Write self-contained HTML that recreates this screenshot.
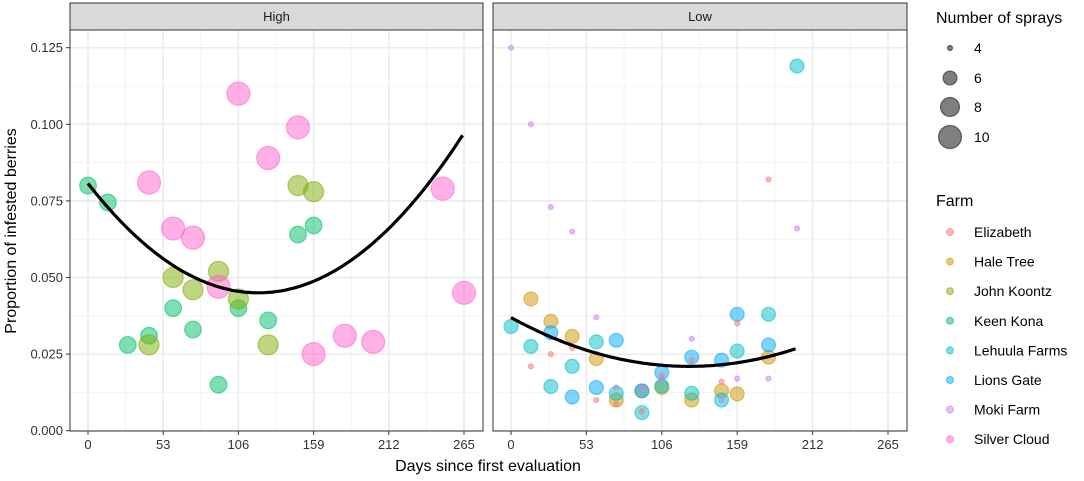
<!DOCTYPE html>
<html><head><meta charset="utf-8"><style>
body{margin:0;background:#fff;font-family:"Liberation Sans",Arial,sans-serif}
svg text{font-family:"Liberation Sans",Arial,sans-serif}
</style></head><body>
<svg id="chart" width="1084" height="476" xmlns="http://www.w3.org/2000/svg"></svg>
<script>
const xTicks=[0,53,106,159,212,265];
const yTicks=[0,0.025,0.05,0.075,0.1,0.125];
const yTickLabels=["0.000","0.025","0.050","0.075","0.100","0.125"];
const farms=["Elizabeth","Hale Tree","John Koontz","Keen Kona","Lehuula Farms","Lions Gate","Moki Farm","Silver Cloud"];
const farmColors=["#F8766D","#CD9600","#7CAE00","#00BE67","#00BFC4","#00A9FF","#C77CFF","#FF61CC"];
const sprayLevels=[4,6,8,10];
const highKeen=[[0,.080],[14,.0745],[28,.028],[43,.031],[60,.040],[74,.033],[92,.015],[106,.040],[127,.036],[148,.064],[159,.067]];
const highJohn=[[43,.028],[60,.050],[74,.046],[92,.052],[106,.043],[127,.028],[148,.080],[159,.078]];
const highSilver=[[43,.081],[60,.066],[74,.063],[92,.047],[106,.110],[127,.089],[148,.099],[159,.025],[181,.031],[201,.029],[250,.079],[265,.045]];
const lowMoki=[[0,.125],[14,.100],[28,.073],[43,.065],[60,.037],[74,.0141],[92,.0138],[106,.017],[127,.030],[148,.010],[159,.017],[181,.017],[201,.066]];
const lowEliz=[[14,.021],[28,.025],[43,.027],[60,.010],[74,.0087],[92,.0063],[106,.018],[127,.023],[148,.016],[159,.035],[181,.082]];
const lowHale=[[14,.043],[28,.0357],[43,.0308],[60,.0235],[74,.010],[92,.013],[106,.0141],[127,.010],[148,.013],[159,.012],[181,.024]];
const lowLehuula=[[0,.034],[14,.0275],[28,.0144],[43,.021],[60,.029],[74,.0122],[92,.0059],[106,.0146],[127,.0122],[148,.010],[159,.026],[181,.038],[201,.119]];
const lowLions=[[28,.032],[43,.011],[60,.0141],[74,.0295],[92,.013],[106,.019],[127,.024],[148,.023],[159,.038],[181,.028]];
const highFit=[2.48e-6,120,0.045,0,265];
const lowFit=[1.02e-6,125,0.021,0,200];

const NS="http://www.w3.org/2000/svg";
const svg=document.getElementById('chart');
function mk(tag,attrs,parent){const e=document.createElementNS(NS,tag);for(const k in attrs)e.setAttribute(k,attrs[k]);(parent||svg).appendChild(e);return e;}
function rad(s){return Math.sqrt(6.25+(s-4)*21.04);}
const Y0=430.7,YS=3064;
function yS(v){return Y0-v*YS;}
const panels=[{name:"High",left:70,right:483,x0:88,x1:464},{name:"Low",left:493,right:907,x0:511,x1:888}];
panels.forEach((p,pi)=>{
  const xS=d=>p.x0+d*(p.x1-p.x0)/265;
  p.xS=xS;
  const g=mk('g',{});
  
  
  mk('rect',{x:p.left,y:30,width:p.right-p.left,height:401,fill:'#fff'},g);
  for(let i=0;i<xTicks.length-1;i++){const x=xS((xTicks[i]+xTicks[i+1])/2);mk('line',{x1:x,x2:x,y1:30,y2:431,stroke:'#f0f0f0','stroke-width':0.8},g);}
  for(let i=0;i<yTicks.length-1;i++){const y=yS((yTicks[i]+yTicks[i+1])/2);mk('line',{x1:p.left,x2:p.right,y1:y,y2:y,stroke:'#f0f0f0','stroke-width':0.8},g);}
  mk('line',{x1:p.left,x2:p.right,y1:yS(0.1375),y2:yS(0.1375),stroke:'#f0f0f0','stroke-width':0.8},g);
  xTicks.forEach(t=>{const x=xS(t);mk('line',{x1:x,x2:x,y1:30,y2:431,stroke:'#ebebeb','stroke-width':1.5},g);
    mk('line',{x1:x,x2:x,y1:431,y2:435,stroke:'#333'},g);
    const tx=mk('text',{x:x,y:449,'font-size':13,'text-anchor':'middle',fill:'#333'},g);tx.textContent=t;
    });
  yTicks.forEach(t=>{const y=yS(t);mk('line',{x1:p.left,x2:p.right,y1:y,y2:y,stroke:'#ebebeb','stroke-width':1.5},g);});
  const st=mk('rect',{x:p.left,y:3,width:p.right-p.left,height:27,fill:'#d9d9d9',stroke:'#333','stroke-width':1},g);
  
  const stt=mk('text',{x:(p.left+p.right)/2,y:21,'font-size':13,'text-anchor':'middle',fill:'#1a1a1a'},g);stt.textContent=p.name;
  
  p.g=g;
});
function pts(panel,arr,fi,spr){
  arr.forEach(d=>{const c=mk('circle',{cx:panel.xS(d[0]),cy:yS(d[1]),r:rad(spr),fill:farmColors[fi],'fill-opacity':0.5,stroke:farmColors[fi],'stroke-opacity':0.55,'stroke-width':1.2},panel.g);
    
    });
}
const H=panels[0],L=panels[1];
pts(H,highKeen,3,7);pts(H,highJohn,2,8.5);pts(H,highSilver,7,10);
pts(L,lowHale,1,6);pts(L,lowLehuula,4,6);pts(L,lowLions,5,6);pts(L,lowEliz,0,4);pts(L,lowMoki,6,4);
function fit(panel,f){let d='';for(let x=f[3];x<=f[4]+0.01;x+=2){const v=f[0]*(x-f[1])**2+f[2];d+=(d?'L':'M')+panel.xS(x).toFixed(1)+','+yS(v).toFixed(1);}
  const pa=mk('path',{d:d,fill:'none',stroke:'#000','stroke-width':3.2},panel.g);
  }
fit(H,highFit);fit(L,lowFit);
panels.forEach(p=>mk('rect',{x:p.left,y:30,width:p.right-p.left,height:401,fill:'none',stroke:'#333','stroke-width':1},p.g));
yTicks.forEach((t,i)=>{const y=yS(t);mk('line',{x1:66,x2:70,y1:y,y2:y,stroke:'#333'});
  const tx=mk('text',{x:63,y:y+4.5,'font-size':13,'text-anchor':'end',fill:'#333'});tx.textContent=yTickLabels[i];
  });
const yt=mk('text',{x:0,y:0,'font-size':16,'text-anchor':'middle',fill:'#000',transform:'translate(16,231) rotate(-90)'});yt.textContent='Proportion of infested berries';

const xt=mk('text',{x:488,y:471,'font-size':16,'text-anchor':'middle',fill:'#000'});xt.textContent='Days since first evaluation';

const st1=mk('text',{x:936,y:23,'font-size':16,fill:'#000'});st1.textContent='Number of sprays';

const sy=[48,78,107,137];
sprayLevels.forEach((s,i)=>{const c=mk('circle',{cx:950,cy:sy[i],r:rad(s),fill:'#000','fill-opacity':0.5,stroke:'#000','stroke-opacity':0.5,'stroke-width':1.2});
  
  const t=mk('text',{x:974,y:sy[i]+5,'font-size':14,fill:'#000'});t.textContent=s;
  });
const ft=mk('text',{x:936,y:206,'font-size':16,fill:'#000'});ft.textContent='Farm';

farms.forEach((f,i)=>{const y=232+i*29.6;
  const c=mk('circle',{cx:950,cy:y,r:3.5,fill:farmColors[i],'fill-opacity':0.5,stroke:farmColors[i],'stroke-opacity':0.6});
  
  const t=mk('text',{x:974,y:y+5,'font-size':14,fill:'#000'});t.textContent=f;
  });
</script>
</body></html>
